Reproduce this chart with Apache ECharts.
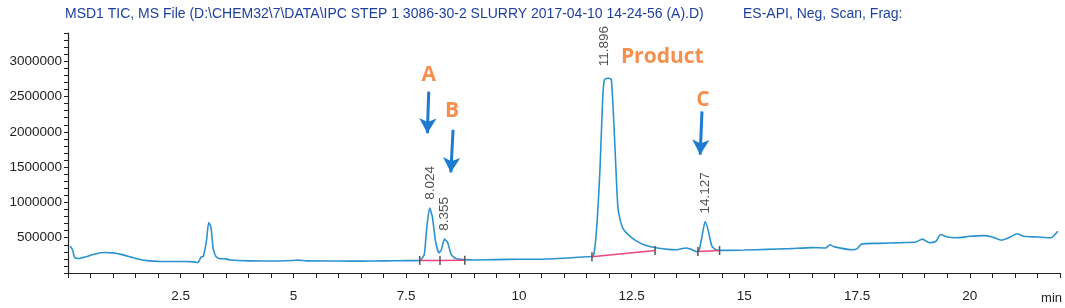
<!DOCTYPE html>
<html>
<head>
<meta charset="utf-8">
<script src="https://cdn.jsdelivr.net/npm/echarts@6/dist/echarts.min.js"></script>
<style>
html, body { margin: 0; padding: 0; background: #fff; }
#tic { width: 1065px; height: 308px; }
</style>
</head>
<body>
<div id="tic"></div>
<script>
// TIC trace (time in min, abundance)
const times = [0.05, 0.1, 0.15, 0.25, 0.4, 0.6, 0.8, 1.0, 1.2, 1.4, 1.6, 1.8, 2.0, 2.3, 2.6, 2.8, 2.88, 2.95, 3.0, 3.07,
  3.12, 3.17, 3.22, 3.28, 3.35, 3.5, 3.6, 4.0, 4.5, 5.0, 5.1, 5.3, 6.0, 6.5, 7.0, 7.5, 7.8, 7.9, 7.95, 8.02,
  8.08, 8.15, 8.23, 8.28, 8.35, 8.42, 8.5, 8.6, 8.8, 9.0, 9.5, 10.0, 10.5, 11.0, 11.5, 11.65, 11.72, 11.8, 11.86, 11.9,
  12.0, 12.05, 12.1, 12.15, 12.2, 12.3, 12.5, 12.7, 12.9, 13.1, 13.3, 13.5, 13.7, 13.8, 13.95, 14.0, 14.07, 14.13, 14.2, 14.28,
  14.4, 14.6, 15.0, 15.5, 16.0, 16.5, 16.8, 16.9, 17.0, 17.4, 17.5, 17.6, 18.0, 18.5, 18.8, 18.95, 19.1, 19.25, 19.35, 19.5,
  19.7, 20.0, 20.3, 20.5, 20.7, 20.9, 21.05, 21.2, 21.5, 21.8, 21.95]
const abundance = [380000, 330000, 215000, 205000, 230000, 270000, 290000, 285000, 260000, 225000, 190000, 172000, 165000, 162000, 163000, 158000, 145000, 225000, 235000, 450000,
  715000, 650000, 350000, 235000, 205000, 200000, 185000, 172000, 170000, 178000, 182000, 172000, 170000, 168000, 172000, 175000, 178000, 260000, 600000, 920000,
  800000, 450000, 285000, 330000, 480000, 430000, 260000, 205000, 190000, 185000, 190000, 195000, 195000, 210000, 230000, 245000, 600000, 1500000, 2500000, 2740000,
  2760000, 2740000, 2200000, 1500000, 900000, 640000, 500000, 420000, 375000, 350000, 335000, 330000, 355000, 340000, 300000, 330000, 550000, 730000, 600000, 380000,
  320000, 320000, 325000, 335000, 345000, 360000, 355000, 400000, 370000, 330000, 345000, 410000, 420000, 430000, 440000, 480000, 430000, 450000, 545000, 510000,
  500000, 520000, 530000, 510000, 465000, 510000, 555000, 520000, 510000, 500000, 590000]

// integration baselines
const baseA = [[7.8, 178000], [8.25, 178000], [8.8, 182000]]
const baseP = [[11.62, 230000], [13.02, 318000]]
const baseC = [[13.97, 305000], [14.45, 318000]]

// peak retention times
const peakTimes = [8.024, 8.355, 11.896, 14.127]
const peakTops = [925000, 485000, 2760000, 730000]

// callouts
const noteNames = ['A', 'B', 'Product', 'C']
const noteTimes = [8.0, 8.52, 13.18, 14.08]
const noteHeights = [2810000, 2290000, 3060000, 2450000]
const arrows = [
  [[8.0, 2570000], [7.97, 1980000]],
  [[8.54, 2030000], [8.49, 1425000]],
  [[14.06, 2290000], [14.02, 1676000]]
]

const chart = echarts.init(document.getElementById('tic'))

const titleStyle = { fontSize: 14, fontWeight: 'normal', color: '#1d3f9e', fontFamily: 'Liberation Sans' }

const option = {
  animation: false,
  title: [
    {
      text: 'MSD1 TIC, MS File (D:\\CHEM32\\7\\DATA\\IPC STEP 1 3086-30-2 SLURRY 2017-04-10 14-24-56 (A).D)',
      left: 60,
      top: 2,
      textStyle: titleStyle
    },
    {
      text: 'ES-API, Neg, Scan, Frag:',
      left: 738,
      top: 2,
      textStyle: titleStyle
    }
  ],
  grid: { left: 68, right: 2, top: 33, bottom: 35 },
  xAxis: {
    type: 'value',
    min: 0,
    max: 22,
    interval: 0.5,
    name: 'min',
    nameLocation: 'end',
    nameGap: 2,
    nameTextStyle: { align: 'right', verticalAlign: 'top', padding: [19, 0, 0, 0], fontSize: 13, color: '#222', fontFamily: 'Liberation Sans' },
    splitLine: { show: false },
    axisLine: { lineStyle: { color: '#222', width: 1.2 } },
    axisTick: { length: 5, lineStyle: { color: '#222' } },
    axisLabel: {
      margin: 16,
      fontSize: 13.5,
      color: '#222',
      fontFamily: 'Liberation Sans',
      formatter: v => (v > 0 && v % 2.5 === 0 && v < 22) ? String(v) : ''
    }
  },
  yAxis: {
    type: 'value',
    min: 0,
    max: 3400000,
    interval: 100000,
    splitLine: { show: false },
    axisLine: { show: true, lineStyle: { color: '#222', width: 1.2 } },
    axisTick: { show: true, length: 4, lineStyle: { color: '#222' } },
    axisLabel: {
      margin: 6,
      fontSize: 13.5,
      color: '#222',
      fontFamily: 'Liberation Sans',
      formatter: v => (v > 0 && v % 500000 === 0) ? String(v) : ''
    }
  },
  series: [
    {
      name: 'TIC',
      type: 'line',
      data: times.map((t, i) => [t, abundance[i]]),
      showSymbol: false,
      smooth: 0.2,
      lineStyle: { color: '#2a93cf', width: 1.6 },
      z: 3
    },
    ...[baseA, baseP, baseC].map(b => ({
      type: 'line',
      data: b,
      symbol: 'rect',
      symbolSize: [1.5, 9],
      itemStyle: { color: '#555' },
      lineStyle: { color: '#e8467c', width: 1.5 },
      z: 4
    })),
    {
      name: 'peaks',
      type: 'scatter',
      data: peakTimes.map((t, i) => ({
        value: [t, peakTops[i]],
        // the saturated product peak has its label pushed up
        label: { distance: peakTops[i] > 2000000 ? 12 : 8 }
      })),
      symbolSize: 0,
      label: {
        show: true,
        position: 'top',
        rotate: 90,
        align: 'left',
        verticalAlign: 'middle',
        fontSize: 13.5,
        color: '#222',
        fontFamily: 'Liberation Sans',
        formatter: p => p.value[0].toFixed(3)
      },
      z: 5
    },
    {
      name: 'notes',
      type: 'scatter',
      data: noteTimes.map((t, i) => [t, noteHeights[i], noteNames[i]]),
      symbolSize: 0,
      label: {
        show: true,
        position: 'inside',
        fontSize: 21,
        fontWeight: 'bold',
        color: '#f37321',
        fontFamily: 'Open Sans',
        formatter: p => p.value[2]
      },
      markLine: {
        silent: true,
        symbol: ['none', 'arrow'],
        symbolSize: [13, 15],
        label: { show: false },
        lineStyle: { color: '#1f7bd0', width: 3, type: 'solid' },
        data: arrows.map(a => [{ coord: a[0] }, { coord: a[1] }])
      },
      z: 6
    }
  ]
}

chart.setOption(option)
</script>
</body>
</html>
